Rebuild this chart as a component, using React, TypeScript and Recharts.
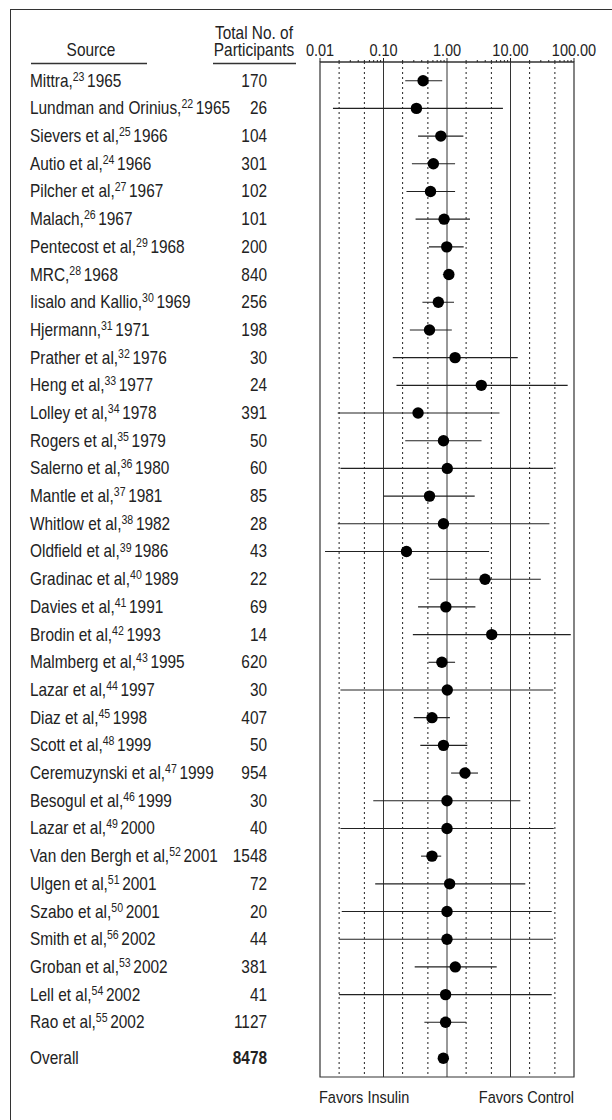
import {
  ErrorBar,
  ReferenceArea,
  ReferenceLine,
  Scatter,
  ScatterChart,
  XAxis,
  YAxis,
} from "recharts";

// No condensed face is installed, so Liberation Sans is squeezed horizontally
// to get close to the Helvetica Condensed look of the original.
const FONT = "'Liberation Sans', Arial, sans-serif";
const SQUEEZE = 0.88;
const INK = "#222";
const RULE = "#333";

// Studies, top to bottom
const sources = [
  "Mittra", "Lundman and Orinius", "Sievers et al", "Autio et al", "Pilcher et al",
  "Malach", "Pentecost et al", "MRC", "Iisalo and Kallio", "Hjermann",
  "Prather et al", "Heng et al", "Lolley et al", "Rogers et al", "Salerno et al",
  "Mantle et al", "Whitlow et al", "Oldfield et al", "Gradinac et al", "Davies et al",
  "Brodin et al", "Malmberg et al", "Lazar et al", "Diaz et al", "Scott et al",
  "Ceremuzynski et al", "Besogul et al", "Lazar et al", "Van den Bergh et al", "Ulgen et al",
  "Szabo et al", "Smith et al", "Groban et al", "Lell et al", "Rao et al",
];
const refs = [
  23, 22, 25, 24, 27, 26, 29, 28, 30, 31, 32, 33, 34, 35, 36, 37, 38, 39, 40, 41,
  42, 43, 44, 45, 48, 47, 46, 49, 52, 51, 50, 56, 53, 54, 55,
];
const years = [
  1965, 1965, 1966, 1966, 1967, 1967, 1968, 1968, 1969, 1971, 1976, 1977, 1978, 1979,
  1980, 1981, 1982, 1986, 1989, 1991, 1993, 1995, 1997, 1998, 1999, 1999, 1999, 2000,
  2001, 2001, 2001, 2002, 2002, 2002, 2002,
];
const participants = [
  170, 26, 104, 301, 102, 101, 200, 840, 256, 198, 30, 24, 391, 50, 60, 85, 28, 43,
  22, 69, 14, 620, 30, 407, 50, 954, 30, 40, 1548, 72, 20, 44, 381, 41, 1127,
];

// Odds ratio with 95% CI
const oddsRatio = [
  0.42, 0.33, 0.8, 0.61, 0.55, 0.9, 0.99, 1.07, 0.73, 0.53, 1.34, 3.47, 0.35, 0.88,
  1.01, 0.53, 0.88, 0.23, 3.97, 0.96, 5.06, 0.83, 1.01, 0.58, 0.88, 1.92, 1.0, 1.0,
  0.58, 1.1, 1.0, 1.0, 1.35, 0.95, 0.95,
];
const ciLow = [
  0.22, 0.016, 0.35, 0.28, 0.23, 0.32, 0.52, 0.86, 0.41, 0.26, 0.14, 0.16, 0.019, 0.22,
  0.021, 0.1, 0.019, 0.012, 0.53, 0.35, 0.29, 0.51, 0.021, 0.3, 0.38, 1.16, 0.069, 0.021,
  0.39, 0.074, 0.022, 0.02, 0.31, 0.02, 0.44,
];
const ciHigh = [
  0.84, 7.6, 1.81, 1.34, 1.34, 2.3, 1.83, 1.29, 1.29, 1.19, 13.0, 79.5, 6.7, 3.5,
  47, 2.73, 41, 4.6, 30, 2.8, 89, 1.34, 47, 1.11, 2.09, 3.08, 14.3, 48,
  0.81, 17.1, 44.6, 46.7, 6.06, 44.6, 2.01,
];

const overallLabel = "Overall";
const overallParticipants = 8478;
const overallOddsRatio = 0.875;

const majorTicks = [0.01, 0.1, 1, 10, 100];
const minorSteps = [2, 3, 4, 5, 6, 7, 8, 9];
const solidLines = [0.1, 1, 10];
const dottedLines = [0.02, 0.05, 0.2, 0.5, 2, 5, 20, 50];
const footerLabels = ["Favors Insulin", "Favors Control"];

// extra spacing before the pooled row, in row units
const OVERALL_GAP = 1.3;
const ROW_PAD = 0.675;

const axisTicks = [
  ...majorTicks.slice(0, -1).flatMap((d) => [d, ...minorSteps.map((m) => d * m)]),
  majorTicks[majorTicks.length - 1],
];

const rows = sources.map((_, i) => ({
  pos: i,
  or: oddsRatio[i],
  err: [oddsRatio[i] - ciLow[i], ciHigh[i] - oddsRatio[i]],
}));
const overallPos = sources.length - 1 + OVERALL_GAP;
rows.push({ pos: overallPos, or: overallOddsRatio, err: [0, 0] });
const rowPositions = rows.map((r) => r.pos);
const yDomain = [-ROW_PAD, overallPos + ROW_PAD];

function NText({ x, y, anchor = "start", size = 17.5, weight = 400, children }: any) {
  return (
    <g transform={`translate(${x},${y}) scale(${SQUEEZE},1)`}>
      <text
        x={0}
        y={0}
        textAnchor={anchor}
        fontSize={size}
        fontWeight={weight}
        fontFamily={FONT}
        fill={INK}
      >
        {children}
      </text>
    </g>
  );
}

function LogTick({ x, y, payload }: any) {
  const v = payload.value;
  const major = majorTicks.some((m) => Math.abs(m - v) < 1e-9);
  return (
    <g>
      <line x1={x} x2={x} y1={y} y2={y - (major ? 4 : 2)} stroke={INK} strokeWidth={1} />
      {major && (
        <NText x={x} y={y - 6} anchor="middle" size={16.5}>
          {v.toFixed(2)}
        </NText>
      )}
    </g>
  );
}

function RowTick({ y, index }: any) {
  const isOverall = index === sources.length;
  const base = y + 6;
  return (
    <g>
      <NText x={30} y={base}>
        {isOverall ? (
          overallLabel
        ) : (
          <>
            <tspan>{sources[index]},</tspan>
            <tspan dy={-6} fontSize={12}>{refs[index]}</tspan>
            <tspan dy={6} dx={3}>{years[index]}</tspan>
          </>
        )}
      </NText>
      <NText x={267} y={base} anchor="end" weight={isOverall ? 700 : 400}>
        {isOverall ? overallParticipants : participants[index]}
      </NText>
    </g>
  );
}

function Dot({ cx, cy }: any) {
  return <circle cx={cx} cy={cy} r={5.7} fill="#000" />;
}

export default function App() {
  return (
    <div
      style={{
        position: "absolute",
        left: 0,
        top: 0,
        width: 612,
        height: 1120,
        overflow: "hidden",
        background: "#fff",
      }}
    >
      <div
        style={{
          position: "absolute",
          left: 10,
          top: 9,
          width: 700,
          height: 1200,
          borderLeft: `1.5px solid ${RULE}`,
          borderTop: `1.5px solid ${RULE}`,
        }}
      />
      <div style={{ position: "absolute", left: 0, top: 0 }}>
        <ScatterChart width={612} height={1120} margin={{ top: 32, right: 38, bottom: 43, left: 0 }}>
          <XAxis
            type="number"
            dataKey="or"
            orientation="top"
            scale="log"
            domain={[0.01, 100]}
            allowDataOverflow
            ticks={axisTicks}
            interval={0}
            tickSize={0}
            tickMargin={0}
            tickLine={false}
            tick={<LogTick />}
            height={30}
            axisLine={{ stroke: RULE, strokeWidth: 1.2 }}
          />
          <YAxis
            type="number"
            dataKey="pos"
            reversed
            domain={yDomain}
            allowDataOverflow
            ticks={rowPositions}
            interval={0}
            width={320}
            axisLine={false}
            tickLine={false}
            tick={<RowTick />}
          />
          {dottedLines.map((v) => (
            <ReferenceLine key={`d${v}`} x={v} stroke={INK} strokeDasharray="2 3" strokeWidth={1} />
          ))}
          {solidLines.map((v) => (
            <ReferenceLine key={`s${v}`} x={v} stroke={RULE} strokeWidth={1} />
          ))}
          <ReferenceArea
            x1={0.01}
            x2={100}
            y1={yDomain[0]}
            y2={yDomain[1]}
            fill="none"
            stroke={RULE}
            strokeWidth={1.2}
            fillOpacity={0}
          />
          <Scatter data={rows} shape={<Dot />} isAnimationActive={false}>
            <ErrorBar
              dataKey="err"
              direction="x"
              width={0}
              stroke={INK}
              strokeWidth={1.1}
              isAnimationActive={false}
            />
          </Scatter>
        </ScatterChart>
      </div>
      <svg
        width={612}
        height={1120}
        style={{ position: "absolute", left: 0, top: 0, pointerEvents: "none" }}
      >
        <NText x={254} y={38.5} anchor="middle">Total No. of</NText>
        <NText x={254} y={55.5} anchor="middle">Participants</NText>
        <NText x={91} y={55.5} anchor="middle">Source</NText>
        <line x1={31} x2={147} y1={63.5} y2={63.5} stroke={RULE} strokeWidth={1.3} />
        <line x1={213} x2={296} y1={63.5} y2={63.5} stroke={RULE} strokeWidth={1.3} />
        <NText x={319} y={1103} size={16.5}>{footerLabels[0]}</NText>
        <NText x={574} y={1103} anchor="end" size={16.5}>{footerLabels[1]}</NText>
      </svg>
    </div>
  );
}
